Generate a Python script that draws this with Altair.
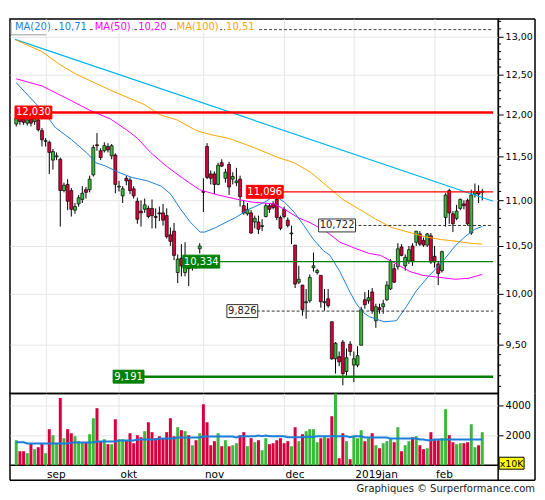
import altair as alt
import pandas as pd

# ---------------- data ----------------
opens = [11.89, 11.96, 11.95, 11.90, 11.95, 11.92, 11.94, 11.81, 11.68, 11.67,
         11.46, 11.50, 11.47, 11.11, 11.18, 11.11, 10.89, 10.96, 11.01, 11.12,
         11.12, 11.29, 11.64, 11.57, 11.57, 11.62, 11.51, 11.52, 11.15, 11.05,
         11.25, 11.23, 11.13, 10.99, 10.88, 10.90, 10.91, 10.91, 10.82, 10.86,
         10.86, 10.83, 10.62, 10.66, 10.22, 10.37, 10.22, 10.30, 10.29, 10.33,
         10.47, 11.10, 11.62, 11.30, 11.30, 11.18, 11.43, 11.25, 11.41, 11.24,
         11.20, 11.24, 10.94, 10.85, 10.86, 10.76, 10.76, 10.71, 10.82, 10.94,
         10.96, 11.01, 10.81, 10.90, 10.78, 10.63, 10.51, 10.12, 10.09, 9.91,
         9.93, 10.27, 10.22, 10.19, 9.91, 9.95, 9.72, 9.36, 9.38, 9.52,
         9.24, 9.50, 9.30, 9.30, 9.49, 9.94, 9.93, 10.02, 9.73, 9.86,
         9.87, 9.94, 10.05, 10.26, 10.28, 10.49, 10.29, 10.34, 10.50, 10.54,
         10.63, 10.56, 10.51, 10.61, 10.39, 10.31, 10.24, 10.81, 11.11, 10.85,
         10.80, 10.91, 10.96, 11.00, 10.64, 11.07, 11.10, 11.09]
highs = [12.01, 12.00, 11.99, 11.98, 11.99, 12.00, 11.98, 11.84, 11.72, 11.69,
         11.59, 11.55, 11.49, 11.20, 11.24, 11.14, 10.97, 11.06, 11.16, 11.15,
         11.28, 11.64, 11.78, 11.60, 11.67, 11.66, 11.65, 11.54, 11.22, 11.16,
         11.28, 11.26, 11.16, 11.03, 11.00, 11.02, 10.94, 11.01, 10.91, 10.93,
         10.96, 10.91, 10.70, 10.75, 10.41, 10.52, 10.54, 10.38, 10.37, 10.37,
         10.53, 11.25, 11.66, 11.34, 11.33, 11.43, 11.47, 11.36, 11.44, 11.32,
         11.37, 11.28, 11.00, 10.97, 10.89, 10.83, 10.83, 10.79, 10.97, 10.97,
         10.99, 11.05, 10.83, 10.93, 10.81, 10.72, 10.51, 10.29, 10.09, 10.05,
         10.20, 10.43, 10.26, 10.19, 10.05, 10.05, 9.72, 9.52, 9.43, 9.54,
         9.46, 9.53, 9.43, 9.48, 9.87, 10.02, 10.04, 10.06, 9.90, 9.90,
         9.94, 10.13, 10.36, 10.31, 10.53, 10.52, 10.41, 10.50, 10.53, 10.66,
         10.66, 10.59, 10.64, 10.64, 10.50, 10.34, 10.45, 11.08, 11.13, 10.88,
         10.95, 11.02, 11.00, 11.02, 11.12, 11.19, 11.17, 11.13]
lows = [11.86, 11.88, 11.88, 11.87, 11.86, 11.88, 11.80, 11.62, 11.62, 11.30,
        11.35, 11.46, 10.71, 11.09, 10.89, 10.82, 10.85, 10.93, 10.97, 11.02,
        11.09, 11.27, 11.57, 11.46, 11.55, 11.55, 11.47, 11.08, 11.10, 10.97,
        11.17, 11.07, 11.02, 10.74, 10.71, 10.86, 10.80, 10.69, 10.69, 10.77,
        10.72, 10.58, 10.50, 10.35, 10.11, 10.18, 10.18, 10.08, 10.24, 10.26,
        10.42, 10.87, 11.24, 11.18, 11.07, 11.17, 11.38, 11.20, 11.06, 11.18,
        11.16, 10.93, 10.84, 10.83, 10.63, 10.69, 10.63, 10.66, 10.81, 10.86,
        10.90, 10.78, 10.67, 10.80, 10.70, 10.52, 10.06, 10.10, 9.78, 9.75,
        9.91, 10.23, 10.20, 9.86, 9.83, 9.86, 9.35, 9.22, 9.29, 9.11,
        9.20, 9.39, 9.14, 9.28, 9.49, 9.85, 9.90, 9.80, 9.66, 9.80,
        9.80, 9.93, 10.04, 10.11, 10.25, 10.39, 10.24, 10.31, 10.29, 10.50,
        10.50, 10.49, 10.49, 10.31, 10.27, 10.09, 10.22, 10.71, 10.74, 10.65,
        10.78, 10.89, 10.90, 10.72, 10.62, 11.03, 10.97, 11.00]
closes = [11.96, 11.92, 11.91, 11.94, 11.90, 11.96, 11.82, 11.70, 11.69, 11.55,
          11.56, 11.51, 11.11, 11.17, 10.99, 10.90, 10.93, 11.03, 11.08, 11.09,
          11.24, 11.61, 11.63, 11.49, 11.63, 11.58, 11.63, 11.18, 11.16, 11.13,
          11.22, 11.11, 11.05, 10.79, 10.86, 10.95, 10.82, 10.83, 10.81, 10.85,
          10.78, 10.60, 10.55, 10.40, 10.36, 10.29, 10.33, 10.26, 10.32, 10.31,
          10.50, 11.09, 11.26, 11.25, 11.18, 11.40, 11.39, 11.32, 11.15, 11.27,
          11.22, 11.04, 10.86, 10.90, 10.64, 10.80, 10.68, 10.72, 10.94, 10.90,
          10.92, 10.81, 10.69, 10.82, 10.72, 10.64, 10.10, 10.15, 9.84, 9.92,
          10.17, 10.29, 10.24, 9.92, 9.92, 9.88, 9.36, 9.51, 9.33, 9.22,
          9.37, 9.43, 9.36, 9.39, 9.84, 9.89, 9.96, 9.83, 9.87, 9.84,
          9.90, 10.09, 10.34, 10.12, 10.47, 10.40, 10.38, 10.46, 10.34, 10.66,
          10.52, 10.51, 10.63, 10.33, 10.33, 10.21, 10.44, 11.06, 10.86, 10.74,
          10.88, 11.01, 10.94, 10.74, 11.06, 11.10, 11.07, 11.10]
volumes = [1665, 932, 932, 800, 1420, 1066, 1200, 1420, 800, 2400,
           2000, 1490, 4480, 1800, 2400, 2130, 1930, 1600, 1490, 1490,
           2065, 3130, 3800, 1600, 1730, 1400, 1400, 3060, 1730, 1730,
           1640, 2130, 1465, 2000, 1865, 2265, 2860, 2200, 1800, 1930,
           1800, 2200, 3130, 1930, 2530, 2330, 2265, 2000, 1330, 1665,
           2130, 4060, 2860, 1330, 1600, 2130, 1265, 1665, 1265, 1330,
           1465, 2000, 2200, 1265, 1800, 1530, 1665, 1000, 1800, 1400,
           1465, 1665, 1800, 1465, 1600, 1265, 2530, 1600, 2065, 2265,
           2400, 2400, 1530, 1800, 1930, 1800, 3265, 4770, 466, 2130,
           1600, 400, 1930, 1800, 2330, 1600, 1800, 2130, 1330, 1130,
           1465, 1600, 1800, 1530, 2530, 932, 1330, 1600, 1865, 1930,
           1330, 1066, 1130, 2200, 1665, 1665, 1800, 3730, 2000, 1530,
           1400, 1465, 1465, 1530, 2730, 1200, 1330, 2200]
vol_ma = [1530, 1530, 1530, 1443, 1443, 1443, 1443, 1443, 1443, 1443,
          1443, 1443, 1443, 1443, 1443, 1510, 1510, 1510, 1510, 1510,
          1510, 1510, 1576, 1576, 1576, 1576, 1576, 1576, 1643, 1643,
          1643, 1643, 1643, 1710, 1710, 1710, 1710, 1710, 1710, 1776,
          1776, 1776, 1776, 1776, 1843, 1843, 1843, 1843, 1843, 1843,
          1843, 1910, 1910, 1910, 1910, 1910, 1910, 1910, 1910, 1910,
          1843, 1930, 1930, 1930, 1930, 1930, 1975, 1930, 1975, 1930,
          1930, 1930, 1930, 1930, 1865, 1865, 1865, 1865, 1865, 1900,
          1900, 1900, 1930, 1930, 1930, 1930, 1930, 1930, 1930, 1930,
          1930, 1865, 1930, 1930, 1930, 1843, 1843, 1843, 1843, 1843,
          1843, 1843, 1776, 1776, 1776, 1776, 1776, 1776, 1776, 1776,
          1710, 1710, 1665, 1665, 1710, 1710, 1710, 1710, 1710, 1710,
          1710, 1710, 1710, 1710, 1710, 1710, 1710, 1710]

ma20_k = [0, 7.6, 10.6, 15.1, 19.1, 21.7, 24.4, 27.8, 31.5, 35.8, 39.5, 42.1, 44.8,
          47.4, 50.1, 51.4, 54.4, 59.8, 63.4, 67.7, 70.4, 73.1, 75.7, 78.4, 81, 83.7,
          85.5, 88.2, 90.9, 92.7, 94.3, 96.2, 100.2, 103.6, 106.3, 109, 112.6, 116.1,
          119.6, 122.3, 124.9, 127]
ma20_v = [12.40, 12.03, 11.85, 11.70, 11.55, 11.43, 11.39, 11.32, 11.26, 11.22, 11.16,
          11.07, 10.90, 10.76, 10.65, 10.65, 10.70, 10.81, 10.90, 10.98, 11.05, 10.98,
          10.87, 10.72, 10.57, 10.45, 10.40, 10.23, 10.02, 9.90, 9.82, 9.77, 9.72, 9.73,
          9.87, 10.03, 10.19, 10.33, 10.50, 10.60, 10.68, 10.71]
ma50_k = [0, 7, 14.4, 19.9, 25.7, 30, 33, 36.6, 40.9, 45.4, 49.9, 55, 60.3, 64.3, 70.4,
          73.1, 76.7, 80.2, 84.7, 88.2, 92.7, 96.2, 99.3, 103.6, 107.3, 110.8, 115.3,
          119.6, 123.2, 127]
ma50_v = [12.45, 12.36, 12.19, 12.06, 11.95, 11.82, 11.72, 11.55, 11.39, 11.25, 11.12,
          11.06, 11.01, 10.98, 10.96, 10.90, 10.81, 10.75, 10.65, 10.54, 10.47, 10.42,
          10.40, 10.31, 10.23, 10.19, 10.17, 10.15, 10.16, 10.20]
ma100_k = [0, 7, 11.6, 16.3, 25.5, 34.8, 39.3, 43.8, 49.1, 53.1, 57.6, 63.5, 66.9, 71.4,
           75.7, 80.2, 84.7, 89, 93.5, 98, 102.3, 106.8, 111.3, 115.6, 120.1, 123.6, 127]
ma100_v = [12.95, 12.80, 12.64, 12.51, 12.31, 12.13, 12.00, 11.94, 11.81, 11.76, 11.72,
           11.63, 11.57, 11.49, 11.43, 11.32, 11.16, 11.01, 10.90, 10.79, 10.70, 10.65,
           10.60, 10.57, 10.55, 10.53, 10.52]
trend_v = [12.96, 10.99]

month_k = [8, 28, 51, 73, 92, 114]
month_lbl = ["sep", "okt", "nov", "dec", "2019jan", "feb"]
price_ticks = [9.5, 10.0, 10.5, 11.0, 11.5, 12.0, 12.5, 13.0]
vol_ticks = [2000, 4000]

level_price = [12.030, 11.096, 10.722, 10.334, 9.826, 9.191]
level_text = ["12,030", "11,096", "10,722", "10,334", "9,826", "9,191"]
level_box_k = [-0.35, 62.7, 82.4, 45.4, 57.4, 26.4]
top_dash_price = 13.09

legend_text = ["MA(20)", "10,71", "MA(50)", "10,20", "MA(100)", "10,51"]

# ---------------- styles / scales ----------------
K_MIN, K_MAX = -0.35, 129.97
W, HP, HV = 490, 376, 72
GRID = "#e6e6e6"
UP, DOWN = "#3cb93c", "#d6003c"
VUP, VDOWN = "#3ec43e", "#d8003e"
C20, C50, C100, CTR = "#1e7fd6", "#ff00ff", "#ffa500", "#00b4f0"
FONT = "DejaVu Sans"

xs = alt.Scale(domain=[K_MIN, K_MAX], nice=False, zero=False)
ys = alt.Scale(type="log", domain=[9.035, 13.234], nice=False)
vs = alt.Scale(domain=[0, 4780], nice=False)

month_expr = "".join(f"datum.value == {k} ? '{t}' : " for k, t in zip(month_k, month_lbl)) + "''"

xa_p = alt.Axis(values=month_k, grid=True, gridColor=GRID, labels=False, ticks=False,
                domain=False, title=None, minExtent=0, maxExtent=0, labelPadding=0,
                tickSize=0)
ya_p = alt.Axis(orient="right", values=price_ticks, grid=True, gridColor=GRID, tickSize=5,
                tickColor="black", domainColor="black", labelColor="black", labelFont=FONT,
                labelFontSize=9.5, labelPadding=2, title=None,
                labelExpr="replace(format(datum.value, '.2f'), '.', ',')")
xa_v = alt.Axis(values=month_k, grid=True, gridColor=GRID, labels=True, ticks=False,
                domain=False, title=None, labelAlign="left", labelFlush=False,
                labelOffset=1, labelPadding=4, labelFont=FONT, labelFontSize=10.5,
                labelColor="black", labelExpr=month_expr, labelOverlap=False)
ya_v = alt.Axis(orient="right", values=vol_ticks, grid=True, gridColor=GRID, tickSize=5,
                tickColor="black", domainColor="black", labelColor="black", labelFont=FONT,
                labelFontSize=10, labelPadding=2, format="d", title=None)


def PX(f="k"):
    return alt.X(f + ":Q", scale=xs, axis=xa_p)


def PY(f):
    return alt.Y(f + ":Q", scale=ys, axis=ya_p)


def VX(f="k"):
    return alt.X(f + ":Q", scale=xs, axis=xa_v)


def VY(f):
    return alt.Y(f + ":Q", scale=vs, axis=ya_v)


df = pd.DataFrame({"k": list(range(len(opens))), "o": opens, "h": highs, "l": lows,
                   "c": closes, "v": volumes, "vma": vol_ma})
df["dir"] = ["up" if c >= o else "down" for o, c in zip(opens, closes)]
one = pd.DataFrame({"a": [0]})

# ---------------- price pane ----------------
wicks = alt.Chart(df).mark_rule(color="black", strokeWidth=1).encode(
    x=PX(), y=PY("l"), y2="h:Q")
bodies = alt.Chart(df).mark_bar(width=3, stroke="black", strokeWidth=0.7).encode(
    x=PX(), y=PY("o"), y2="c:Q",
    color=alt.Color("dir:N", scale=alt.Scale(domain=["up", "down"], range=[UP, DOWN]),
                    legend=None))


def ma_line(ks, vals, color, sw=1.0):
    d = pd.DataFrame({"k": ks, "p": vals})
    return alt.Chart(d).mark_line(color=color, strokeWidth=sw).encode(x=PX(), y=PY("p"))


trend = ma_line([K_MIN, K_MAX], trend_v, CTR, 1.2)
l100 = ma_line(ma100_k, ma100_v, C100)
l50 = ma_line(ma50_k, ma50_v, C50)
l20 = ma_line(ma20_k, ma20_v, C20)

level_styles = [
    dict(line="#ff0000", lw=2.5, dash=None, fill="#ff0000", stroke="#ff0000", tc="white"),
    dict(line="#ff0000", lw=1.3, dash=None, fill="#ff0000", stroke="#ff0000", tc="white"),
    dict(line="#333333", lw=1, dash=[3, 2], fill="white", stroke="#333333", tc="#222222"),
    dict(line="#008000", lw=1.3, dash=None, fill="#008000", stroke="#008000", tc="white"),
    dict(line="#333333", lw=1, dash=[3, 2], fill="white", stroke="#333333", tc="#222222"),
    dict(line="#008000", lw=2.5, dash=None, fill="#008000", stroke="#008000", tc="white"),
]
level_layers = []
box_layers = []
for p, t, bk, st in zip(level_price, level_text, level_box_k, level_styles):
    d = pd.DataFrame({"k": [bk], "k2": [K_MAX], "p": [p], "t": [t]})
    rk = dict(color=st["line"], strokeWidth=st["lw"])
    if st["dash"]:
        rk["strokeDash"] = st["dash"]
    level_layers.append(alt.Chart(d).mark_rule(**rk).encode(x=PX(), x2="k2:Q", y=PY("p")))
    bw = 37 if len(t) >= 6 else 31
    box_layers.append(alt.Chart(d).mark_rect(
        fill=st["fill"], stroke=st["stroke"], strokeWidth=1,
        yOffset=-6.5, y2Offset=6.5, x2Offset=bw).encode(x=PX(), x2="k:Q", y=PY("p"), y2="p:Q"))
    box_layers.append(alt.Chart(d).mark_text(
        color=st["tc"], font=FONT, fontSize=10, align="center", baseline="middle",
        dx=bw / 2).encode(x=PX(), y=PY("p"), text="t:N"))

top_dash = alt.Chart(pd.DataFrame({"k": [K_MIN], "k2": [K_MAX], "p": [top_dash_price]})).mark_rule(
    color="#444444", strokeWidth=1, strokeDash=[3, 2]).encode(x=PX(), x2="k2:Q", y=PY("p"))

legend_layers = []
lx = 5
leg_colors = [C20, C20, C50, C50, C100, C100]
gaps = [7, 6, 7, 8, 7, 0]
for t, col, g in zip(legend_text, leg_colors, gaps):
    w = 6.1 * len(t)
    legend_layers.append(alt.Chart(one).mark_rect(fill="white").encode(
        x=alt.value(lx - 1), x2=alt.value(lx + w + 1), y=alt.value(2), y2=alt.value(14)))
    legend_layers.append(alt.Chart(one).mark_text(
        color=col, font=FONT, fontSize=10, align="left", baseline="middle").encode(
        x=alt.value(lx), y=alt.value(8), text=alt.value(t)))
    lx = lx + w + g
bracket = [
    alt.Chart(one).mark_rule(color="#999999", strokeWidth=1).encode(
        x=alt.value(1), y=alt.value(3), y2=alt.value(16)),
    alt.Chart(one).mark_rule(color="#999999", strokeWidth=1).encode(
        x=alt.value(1), x2=alt.value(36), y=alt.value(16)),
]

minor_vals = [round(9.1 + 0.1 * i, 1) for i in range(42)]
minor_vals = [v for v in minor_vals if abs(v * 2 - round(v * 2)) > 1e-6]
minor = alt.Chart(pd.DataFrame({"p": minor_vals})).mark_rule(color="black", strokeWidth=1).encode(
    x=alt.value(W), x2=alt.value(W + 3), y=PY("p"))

frame_p = [
    alt.Chart(one).mark_rule(color="black", strokeWidth=1.5).encode(
        x=alt.value(W), x2=alt.value(527), y=alt.value(0)),
    alt.Chart(one).mark_rule(color="black", strokeWidth=1.5).encode(
        x=alt.value(527), y=alt.value(0), y2=alt.value(HP)),
]

price = alt.layer(
    wicks, bodies, trend, l100, l50, l20, *level_layers, top_dash, *legend_layers, *bracket,
    *box_layers, minor, *frame_p
).properties(width=W, height=HP)

# ---------------- volume pane ----------------
vbars = alt.Chart(df).mark_bar(width=3).encode(
    x=VX(), y=VY("v"),
    color=alt.Color("dir:N", scale=alt.Scale(domain=["up", "down"], range=[VUP, VDOWN]),
                    legend=None))
vline = alt.Chart(df).mark_line(color="#1a7fd9", strokeWidth=2).encode(x=VX(), y=VY("vma"))

unit_box = alt.Chart(one).mark_rect(fill="#ffff00", stroke="black", strokeWidth=1).encode(
    x=alt.value(W + 1), x2=alt.value(W + 26), y=alt.value(64), y2=alt.value(76))
unit_txt = alt.Chart(one).mark_text(font=FONT, fontSize=9.5, color="black", align="center",
                                    baseline="middle").encode(
    x=alt.value(W + 13.5), y=alt.value(70.5), text=alt.value("x10K"))
frame_v = [
    alt.Chart(one).mark_rule(color="black", strokeWidth=1.5).encode(
        x=alt.value(527), y=alt.value(0), y2=alt.value(87)),
    alt.Chart(one).mark_rule(color="black", strokeWidth=1.5).encode(
        x=alt.value(0), x2=alt.value(527), y=alt.value(87)),
    alt.Chart(one).mark_rule(color="black", strokeWidth=1.5).encode(
        x=alt.value(0), y=alt.value(HV), y2=alt.value(87)),
    alt.Chart(one).mark_rule(color="black", strokeWidth=1.5).encode(
        x=alt.value(W), y=alt.value(HV), y2=alt.value(87)),
]
credit = alt.Chart(one).mark_text(font=FONT, fontSize=10, color="#222222", align="right",
                                  baseline="middle").encode(
    x=alt.value(527), y=alt.value(96), text=alt.value("Graphiques © Surperformance.com"))

vol = alt.layer(vbars, vline, unit_box, unit_txt, *frame_v, credit).properties(width=W, height=HV)

chart = alt.vconcat(price, vol, spacing=0, bounds="flush").properties(
    padding={"left": 0, "top": 8, "right": 0, "bottom": 0}
).configure(font=FONT, background="white").configure_view(stroke="black", strokeWidth=1.5)

chart.save("out.html", embed_options={"renderer": "svg", "actions": False})
